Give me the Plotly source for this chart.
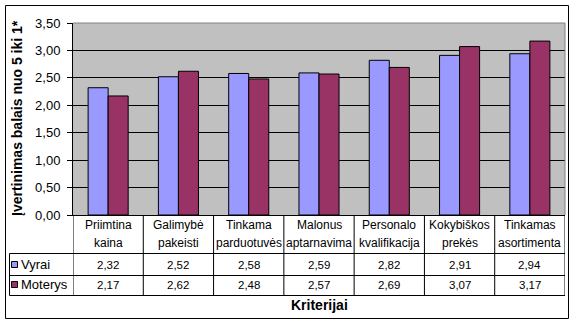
import plotly.graph_objects as go

categories = ["Priimtina kaina", "Galimybė pakeisti", "Tinkama parduotuvės",
              "Malonus aptarnavima", "Personalo kvalifikacija", "Kokybiškos prekės",
              "Tinkamas asortimenta"]
series_names = ["Vyrai", "Moterys"]
vyrai = [2.32, 2.52, 2.58, 2.59, 2.82, 2.91, 2.94]
moterys = [2.17, 2.62, 2.48, 2.57, 2.69, 3.07, 3.17]
y_ticks = [0.0, 0.5, 1.0, 1.5, 2.0, 2.5, 3.0, 3.5]
y_title = "Įvertinimas balais nuo 5 iki 1*"
x_title = "Kriterijai"

colors = ["#9999FF", "#993366"]
FONT = "Liberation Sans, Arial, sans-serif"
W, H = 576, 326
L, R, T, B = 73, 11, 23, 111
PW, PH = W - L - R, H - T - B


def px(xp):
    return (xp - L) / PW


def py(yp):
    return (T + PH - yp) / PH


def fmt(v):
    return f"{v:.2f}".replace(".", ",")


xs = list(range(len(categories)))
fig = go.Figure()
for name, vals, col in zip(series_names, [vyrai, moterys], colors):
    fig.add_trace(go.Bar(x=xs, y=vals, name=name, marker_color=col,
                         marker_line=dict(color="black", width=1),
                         showlegend=False))

shapes = []
annotations = []

# plot area border (gray top/right)
shapes.append(dict(type="line", xref="paper", yref="paper", x0=0, x1=1, y0=1, y1=1,
                   line=dict(color="#808080", width=1), layer="above"))
shapes.append(dict(type="line", xref="paper", yref="paper", x0=1, x1=1, y0=0, y1=1,
                   line=dict(color="#808080", width=1), layer="above"))

# outer chart border
shapes.append(dict(type="rect", xref="paper", yref="paper", x0=px(5.5), x1=px(568.5),
                   y0=py(318.5), y1=py(5.5), line=dict(color="black", width=1)))

# data table lines
row_lines = [253.5, 275.5, 295.5]
leg_left = 9.5
for yl in row_lines:
    shapes.append(dict(type="line", xref="paper", yref="paper", x0=px(leg_left), x1=1,
                       y0=py(yl), y1=py(yl), line=dict(color="black", width=1)))
for i in range(len(categories) + 1):
    shapes.append(dict(type="line", xref="x", yref="paper", x0=i - 0.5, x1=i - 0.5,
                       y0=py(row_lines[-1]), y1=0, line=dict(color="black", width=1)))
shapes.append(dict(type="line", xref="paper", yref="paper", x0=px(leg_left), x1=px(leg_left),
                   y0=py(row_lines[-1]), y1=py(row_lines[0]), line=dict(color="black", width=1)))

# header texts
for i, c in enumerate(categories):
    l1, l2 = c.split(" ", 1)
    for txt, yy in [(l1, 225), (l2, 242.5)]:
        annotations.append(dict(x=i, y=py(yy), xref="x", yref="paper", text=txt,
                                showarrow=False, font=dict(family=FONT, size=12, color="black"),
                                xanchor="center", yanchor="middle"))

# value rows + legend keys
row_centers = [264.5, 284.5]
for r, (name, vals, col) in enumerate(zip(series_names, [vyrai, moterys], colors)):
    yc = row_centers[r]
    for i, v in enumerate(vals):
        annotations.append(dict(x=i, y=py(yc), xref="x", yref="paper", text=fmt(v),
                                showarrow=False, font=dict(family=FONT, size=11.5, color="black"),
                                xanchor="center", yanchor="middle"))
    shapes.append(dict(type="rect", xref="paper", yref="paper", x0=px(11.5), x1=px(17.5),
                       y0=py(yc + 3), y1=py(yc - 3), fillcolor=col,
                       line=dict(color="black", width=1)))
    annotations.append(dict(x=px(19), y=py(yc), xref="paper", yref="paper", text=name,
                            showarrow=False, font=dict(family=FONT, size=13, color="black"),
                            xanchor="left", yanchor="middle"))

# axis titles
annotations.append(dict(x=px(319), y=py(305), xref="paper", yref="paper", text=f"<b>{x_title}</b>",
                        showarrow=False, font=dict(family=FONT, size=14, color="black"),
                        xanchor="center", yanchor="middle"))
annotations.append(dict(x=px(17), y=py(118), xref="paper", yref="paper", text=f"<b>{y_title}</b>",
                        showarrow=False, textangle=-90, font=dict(family=FONT, size=14, color="black"),
                        xanchor="center", yanchor="middle"))

fig.update_layout(
    width=W, height=H,
    margin=dict(l=L, r=R, t=T, b=B, autoexpand=False),
    paper_bgcolor="white", plot_bgcolor="#C0C0C0",
    barmode="group", bargap=0.43, bargroupgap=0,
    separators=", ",
    font=dict(family=FONT, size=12, color="black"),
    shapes=shapes, annotations=annotations,
    xaxis=dict(range=[-0.5, len(categories) - 0.5], showticklabels=False, ticks="",
               showgrid=False, zeroline=False, showline=True, linecolor="black", linewidth=1,
               fixedrange=True),
    yaxis=dict(range=[0, 3.5], tickvals=y_ticks, tickformat=".2f", ticks="outside",
               ticklen=5, tickcolor="black", showgrid=True, gridcolor="black", gridwidth=1,
               zeroline=False, showline=True, linecolor="black", linewidth=1,
               tickfont=dict(family=FONT, size=13, color="black"), ticklabelstandoff=4,
               automargin=False, fixedrange=True),
)

fig.write_html("out.html")
